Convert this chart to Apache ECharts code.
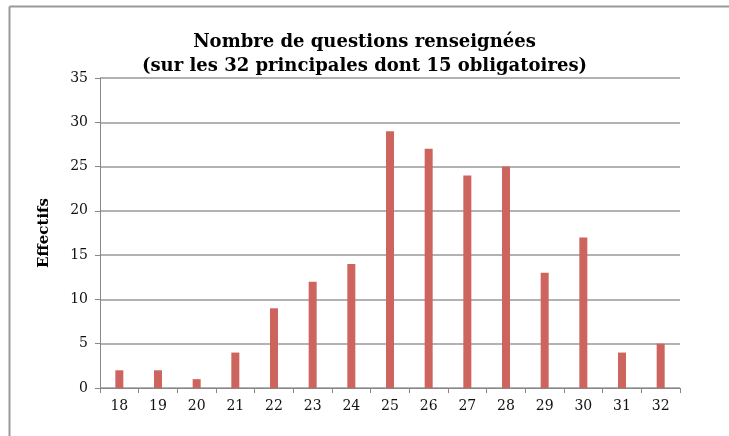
<!DOCTYPE html>
<html>
<head>
<meta charset="utf-8">
<script src="https://cdn.jsdelivr.net/npm/echarts@6/dist/echarts.min.js"></script>
<style>
  html, body { margin: 0; padding: 0; background: #fff; }
  #chart { width: 729px; height: 436px; }
</style>
</head>
<body>
<div id="chart"></div>
<script>
var categories = ['18', '19', '20', '21', '22', '23', '24', '25', '26', '27', '28', '29', '30', '31', '32'];
var effectifs = [2, 2, 1, 4, 9, 12, 14, 29, 27, 24, 25, 13, 17, 4, 5];

var fontFam = '"DejaVu Serif", "Liberation Serif", serif';

var myChart = echarts.init(document.getElementById('chart'));
var option = {
  animation: false,
  title: {
    text: 'Nombre de questions renseignées\n(sur les 32 principales dont 15 obligatoires)',
    left: 'center',
    top: 25,
    textStyle: {
      fontFamily: fontFam,
      fontWeight: 'bold',
      fontSize: 18,
      lineHeight: 24,
      color: '#000'
    }
  },
  graphic: [
    { type: 'line', shape: { x1: 9.5, y1: 6.5, x2: 729, y2: 6.5 }, style: { stroke: '#999', lineWidth: 2 } },
    { type: 'line', shape: { x1: 9.5, y1: 6.5, x2: 9.5, y2: 436 }, style: { stroke: '#999', lineWidth: 2 } }
  ],
  grid: { left: 100, right: 49, top: 78, bottom: 48 },
  xAxis: {
    type: 'category',
    data: categories,
    axisLine: { lineStyle: { color: '#888', width: 1 } },
    axisTick: { show: true, length: 5, lineStyle: { color: '#888' } },
    axisLabel: { fontFamily: fontFam, fontSize: 14, color: '#111', margin: 11 }
  },
  yAxis: {
    type: 'value',
    min: 0,
    max: 35,
    interval: 5,
    name: 'Effectifs',
    nameLocation: 'middle',
    nameGap: 48,
    nameRotate: 90,
    nameTextStyle: { fontFamily: fontFam, fontWeight: 'bold', fontSize: 15, color: '#000' },
    axisLine: { show: true, lineStyle: { color: '#888' } },
    axisTick: { show: true, length: 5, lineStyle: { color: '#888' } },
    axisLabel: { fontFamily: fontFam, fontSize: 14, color: '#111', margin: 12 },
    splitLine: { lineStyle: { color: '#999', width: 1.5 } }
  },
  series: [{
    type: 'bar',
    data: effectifs,
    barWidth: 8,
    itemStyle: { color: '#CD645D' }
  }]
};
myChart.setOption(option);
</script>
</body>
</html>
